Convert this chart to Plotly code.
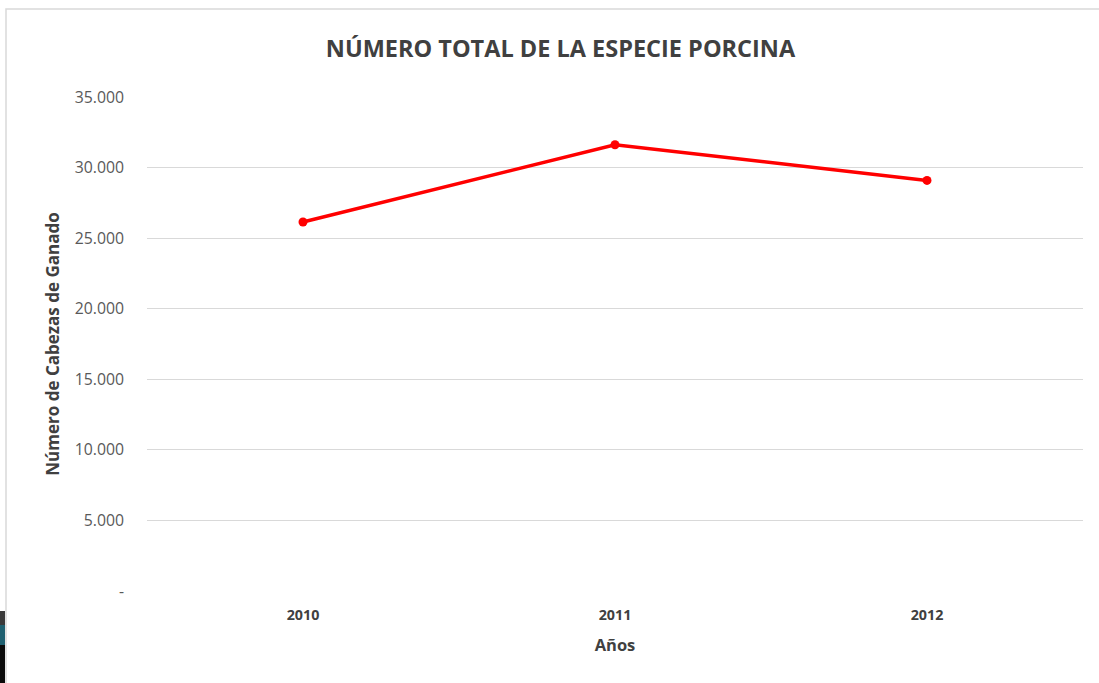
import plotly.graph_objects as go

# Livestock census: total pigs per year
years = ["2010", "2011", "2012"]
heads = [26140, 31620, 29090]

y_ticks = [0, 5000, 10000, 15000, 20000, 25000, 30000, 35000]
y_tick_labels = ["-", "5.000", "10.000", "15.000", "20.000", "25.000", "30.000", "35.000"]

RED = "#ff0000"
TEXT = "#595959"
DARK = "#404040"
FONT = "Open Sans"

fig = go.Figure()
fig.add_trace(go.Scatter(
    x=years, y=heads, mode="lines+markers",
    line=dict(color=RED, width=3.5),
    marker=dict(color=RED, size=9),
    hoverinfo="x+y", showlegend=False,
))

fig.update_layout(
    width=1099, height=683,
    margin=dict(l=147, r=16, t=97, b=92),
    paper_bgcolor="white", plot_bgcolor="white",
    font=dict(family=FONT, color=TEXT),
    title=dict(
        text="<b>NÚMERO TOTAL DE LA ESPECIE PORCINA</b>",
        x=0.51, xanchor="center", y=0.929, yanchor="middle",
        font=dict(family=FONT, size=23.5, color=DARK),
    ),
    xaxis=dict(
        type="category", range=[-0.5, 2.5],
        showgrid=False, showline=False, zeroline=False, ticks="",
        tickfont=dict(family=FONT, size=14.3, color=DARK, weight="bold"),
        ticklabelstandoff=14,
        title=dict(text="<b>Años</b>", font=dict(family=FONT, size=16.5, color=DARK), standoff=16),
    ),
    yaxis=dict(
        range=[0, 35000], tickvals=y_ticks, ticktext=y_tick_labels,
        showgrid=True, gridcolor="#d9d9d9", gridwidth=1,
        zeroline=False, showline=False, ticks="",
        tickfont=dict(family=FONT, size=15.8, color=TEXT),
        ticklabelstandoff=22,
        title=dict(text="<b>Número de Cabezas de Ganado</b>", font=dict(family=FONT, size=17, color=DARK), standoff=10),
    ),
    shapes=[
        # chart frame
        dict(type="rect", xref="paper", yref="paper",
             x0=(6 - 147) / 936, x1=(1105 - 147) / 936,
             y0=(591 - 700) / 494, y1=(591 - 9) / 494,
             line=dict(color="#d9d9d9", width=1.5), fillcolor="rgba(0,0,0,0)", layer="below"),
        # dark window strip at lower left
        dict(type="rect", xref="paper", yref="paper",
             x0=-1, x1=(5 - 147) / 936, y0=(591 - 625) / 494, y1=(591 - 611) / 494,
             line=dict(width=0), fillcolor="#3a3a3a"),
        dict(type="rect", xref="paper", yref="paper",
             x0=-1, x1=(5 - 147) / 936, y0=(591 - 645) / 494, y1=(591 - 625) / 494,
             line=dict(width=0), fillcolor="#1f6070"),
        dict(type="rect", xref="paper", yref="paper",
             x0=-1, x1=(5 - 147) / 936, y0=(591 - 700) / 494, y1=(591 - 645) / 494,
             line=dict(width=0), fillcolor="#0a0a0a"),
    ],
)

fig.write_html("out.html")
